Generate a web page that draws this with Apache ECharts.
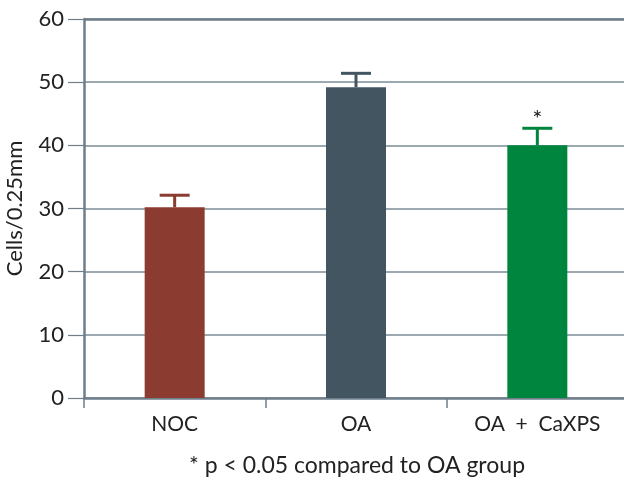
<!DOCTYPE html>
<html>
<head>
<meta charset="utf-8">
<script src="https://cdn.jsdelivr.net/npm/echarts@6/dist/echarts.min.js"></script>
<style>
  html, body { margin: 0; padding: 0; background: #fff; }
  #chart { width: 624px; height: 480px; }
</style>
</head>
<body>
<div id="chart"></div>
<script>
// Cell counts per group (mean with upward SEM bars)
const groups = ['NOC', 'OA', 'OA  +  CaXPS'];
const means = [30.2, 49.2, 40.0];
const errors = [1.9, 2.2, 2.7];
const barColors = ['#8b3b30', '#435561', '#00853e'];
const significant = [false, false, true];
const yTicks = { min: 0, max: 60, step: 10 };
const footnote = '* p < 0.05 compared to OA group';

const FONT = 'Lato';
const AXIS = '#6e7e8a';

const chart = echarts.init(document.getElementById('chart'));

chart.setOption({
  animation: false,
  textStyle: { fontFamily: FONT },
  grid: { left: 84, right: -4, top: 19, bottom: 82, containLabel: false, outerBoundsMode: 'none' },
  xAxis: {
    type: 'category',
    data: groups,
    axisLine: { show: true, lineStyle: { color: AXIS, width: 2.5 } },
    axisTick: { show: true, length: 10, lineStyle: { color: AXIS, width: 1.5 } },
    axisLabel: { color: '#222', fontSize: 21, margin: 16, fontFamily: FONT }
  },
  yAxis: {
    type: 'value',
    min: yTicks.min,
    max: yTicks.max,
    interval: yTicks.step,
    name: 'Cells/0.25mm',
    nameLocation: 'middle',
    nameGap: 58,
    nameTextStyle: { color: '#222', fontSize: 22, fontFamily: FONT },
    axisLine: { show: true, lineStyle: { color: AXIS, width: 2.5 } },
    axisTick: { show: true, length: 16, lineStyle: { color: AXIS, width: 1.2 } },
    axisLabel: { color: '#222', fontSize: 22, margin: 20, fontFamily: FONT },
    splitLine: { show: true, lineStyle: { color: '#7d8c97', width: 1.5 } }
  },
  series: [
    {
      type: 'bar',
      barWidth: 60,
      data: means.map((v, i) => ({ value: v, itemStyle: { color: barColors[i] } })),
      z: 3,
      markLine: {
        silent: true,
        symbol: 'none',
        label: { show: false },
        lineStyle: { color: AXIS, width: 2.5, type: 'solid' },
        data: [{ yAxis: yTicks.max }]
      }
    },
    {
      type: 'custom',
      z: 4,
      data: means.map((v, i) => [i, v, v + errors[i]]),
      renderItem: function (params, api) {
        const i = api.value(0);
        const base = api.coord([i, api.value(1)]);
        const top = api.coord([i, api.value(2)]);
        const color = barColors[i];
        const half = 15;
        const children = [
          {
            type: 'line',
            shape: { x1: base[0], y1: base[1], x2: top[0], y2: top[1] },
            style: { stroke: color, lineWidth: 3 }
          },
          {
            type: 'line',
            shape: { x1: top[0] - half, y1: top[1], x2: top[0] + half, y2: top[1] },
            style: { stroke: color, lineWidth: 3 }
          }
        ];
        if (significant[i]) {
          children.push({
            type: 'text',
            style: {
              text: '*',
              x: top[0],
              y: top[1] + 3,
              align: 'center',
              verticalAlign: 'bottom',
              fontSize: 24,
              fontFamily: FONT,
              fill: '#222'
            }
          });
        }
        return { type: 'group', children: children };
      }
    }
  ],
  graphic: [
    {
      type: 'text',
      x: 357,
      y: 466,
      style: {
        text: footnote,
        align: 'center',
        verticalAlign: 'middle',
        fontSize: 23,
        fontFamily: FONT,
        fill: '#222'
      }
    }
  ]
});
</script>
</body>
</html>
